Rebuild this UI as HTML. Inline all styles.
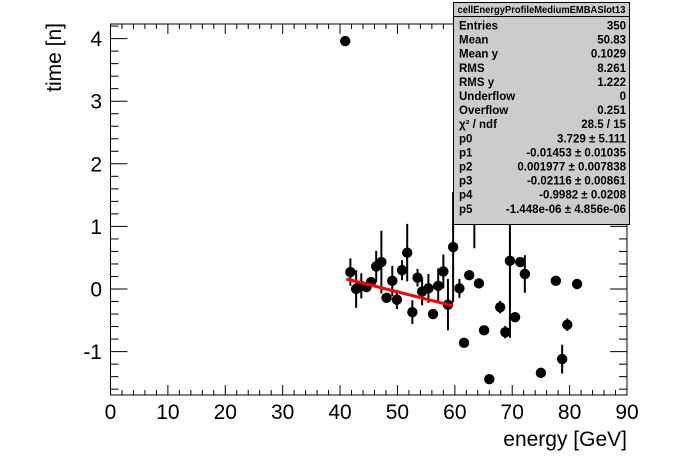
<!DOCTYPE html>
<html><head><meta charset="utf-8"><style>
body{margin:0;background:#fff;font-family:"Liberation Sans",sans-serif}
svg{display:block}
</style></head><body>
<svg id="c" width="696" height="472" xmlns="http://www.w3.org/2000/svg" font-family="Liberation Sans, sans-serif">
<rect width="696" height="472" fill="#fff"/>
<g id="axes"></g>
<g id="pts"></g>
<g id="fit"></g>
<g id="stats"></g>
</svg>
<script>
const xs=[41.8,42.8,43.7,44.6,45.4,46.3,47.2,48.1,49.1,49.9,50.8,51.7,52.6,53.5,54.3,55.4,56.2,57.1,58.0,58.8,59.7,60.8,61.6,62.5,63.4,64.2,65.1,66.0,67.9,68.8,69.6,70.5,71.4,72.2,75.0,77.6,78.7,79.6,81.3,40.9];
const ys=[0.27,0.0,0.05,0.03,0.11,0.36,0.43,-0.14,0.13,-0.17,0.30,0.58,-0.37,0.18,-0.04,0.01,-0.40,0.05,0.28,-0.25,0.67,0.01,-0.86,0.22,1.65,0.09,-0.66,-1.44,-0.29,-0.69,0.45,-0.45,0.43,0.24,-1.34,0.13,-1.12,-0.57,0.08,3.96];
const errs=[0.22,0.3,0.2,0.05,0.05,0.25,0.5,0.05,0.24,0.15,0.16,0.46,0.19,0.14,0.22,0.23,0.05,0.28,0.27,0.41,0.88,0.15,0,0.05,1.0,0.05,0,0,0.1,0.1,1.23,0,0.05,0.3,0,0,0.23,0.1,0,0];
const fitX=[41.1,59.7];
const fitY=[0.16,-0.27];
const xTicks=[0,10,20,30,40,50,60,70,80,90];
const yTicks=[-1,0,1,2,3,4];
const statLabels=["Entries","Mean","Mean y","RMS","RMS y","Underflow","Overflow","χ² / ndf","p0","p1","p2","p3","p4","p5"];
const statValues=["350","50.83","0.1029","8.261","1.222","0","0.251","28.5 / 15","3.729 ± 5.111","-0.01453 ± 0.01035","0.001977 ± 0.007838","-0.02116 ± 0.00861","-0.9982 ± 0.0208","-1.448e-06 ± 4.856e-06"];

const L=110.5,R=627,T=24,B=395;
const X=v=>L+(v-0)*(R-L)/90;
const Y=v=>289-v*62.6;
const NS="http://www.w3.org/2000/svg";
function mk(p,t,a){const e=document.createElementNS(NS,t);for(const k in a)e.setAttribute(k,a[k]);p.appendChild(e);return e;}
const ax=document.getElementById('axes');
const fr=mk(ax,'rect',{x:L,y:T,width:R-L,height:B-T,fill:'none',stroke:'#000','stroke-width':1});


for(let v=0;v<=90;v+=2){const maj=v%10===0;const h=maj?10:5;
 mk(ax,'line',{x1:X(v),x2:X(v),y1:B,y2:B-h,stroke:'#000'});
 mk(ax,'line',{x1:X(v),x2:X(v),y1:T,y2:T+h,stroke:'#000'});}
for(let i=-8;i<=21;i++){const v=i*0.2;const y=Y(v);if(y<T||y>B)continue;const maj=i%5===0;const h=maj?17:8;
 mk(ax,'line',{x1:L,x2:L+h,y1:y,y2:y,stroke:'#000'});
 mk(ax,'line',{x1:R,x2:R-h,y1:y,y2:y,stroke:'#000'});}
xTicks.forEach(v=>{const t=mk(ax,'text',{x:X(v),y:419,'font-size':21,'text-anchor':'middle'});t.textContent=v;
 
 });
yTicks.forEach(v=>{const t=mk(ax,'text',{x:102,y:Y(v)+7.5,'font-size':21,'text-anchor':'end'});t.textContent=v;
 
 });
const xt=mk(ax,'text',{x:627,y:446,'font-size':21,'text-anchor':'end'});xt.textContent='energy [GeV]';


const yt=mk(ax,'text',{x:61,y:23,'font-size':21,'text-anchor':'end',transform:'rotate(-90 61 23)'});yt.textContent='time [n]';



const pg=document.getElementById('pts');
xs.forEach((x,i)=>{const g=mk(pg,'g',{});
 
 
 if(errs[i]>0)mk(g,'line',{x1:X(x),x2:X(x),y1:Y(ys[i]+errs[i]),y2:Y(ys[i]-errs[i]),stroke:'#000','stroke-width':2});
 mk(g,'circle',{cx:X(x),cy:Y(ys[i]),r:5.2,fill:'#000'});});
const fl=mk(document.getElementById('fit'),'line',{x1:X(fitX[0]),y1:Y(fitY[0]),x2:X(fitX[1]),y2:Y(fitY[1]),stroke:'#f00','stroke-width':3});



const st=document.getElementById('stats');


mk(st,'rect',{x:453.5,y:2.5,width:176,height:222,fill:'#ccc',stroke:'#000'});
mk(st,'line',{x1:453.5,x2:629.5,y1:16.5,y2:16.5,stroke:'#000'});
const tt=mk(st,'text',{x:541.5,y:13,'font-size':10,'font-weight':'bold','text-anchor':'middle',textLength:168,lengthAdjust:'spacingAndGlyphs'});tt.textContent='cellEnergyProfileMediumEMBASlot13';
statLabels.forEach((l,i)=>{const y=29.5+i*14.1;
 const a=mk(st,'text',{x:459,y:y,'font-size':11.5,'font-weight':'bold'});a.textContent=l;
 const b=mk(st,'text',{x:626,y:y,'font-size':11.5,'font-weight':'bold','text-anchor':'end'});b.textContent=statValues[i];});
</script>
</body></html>
